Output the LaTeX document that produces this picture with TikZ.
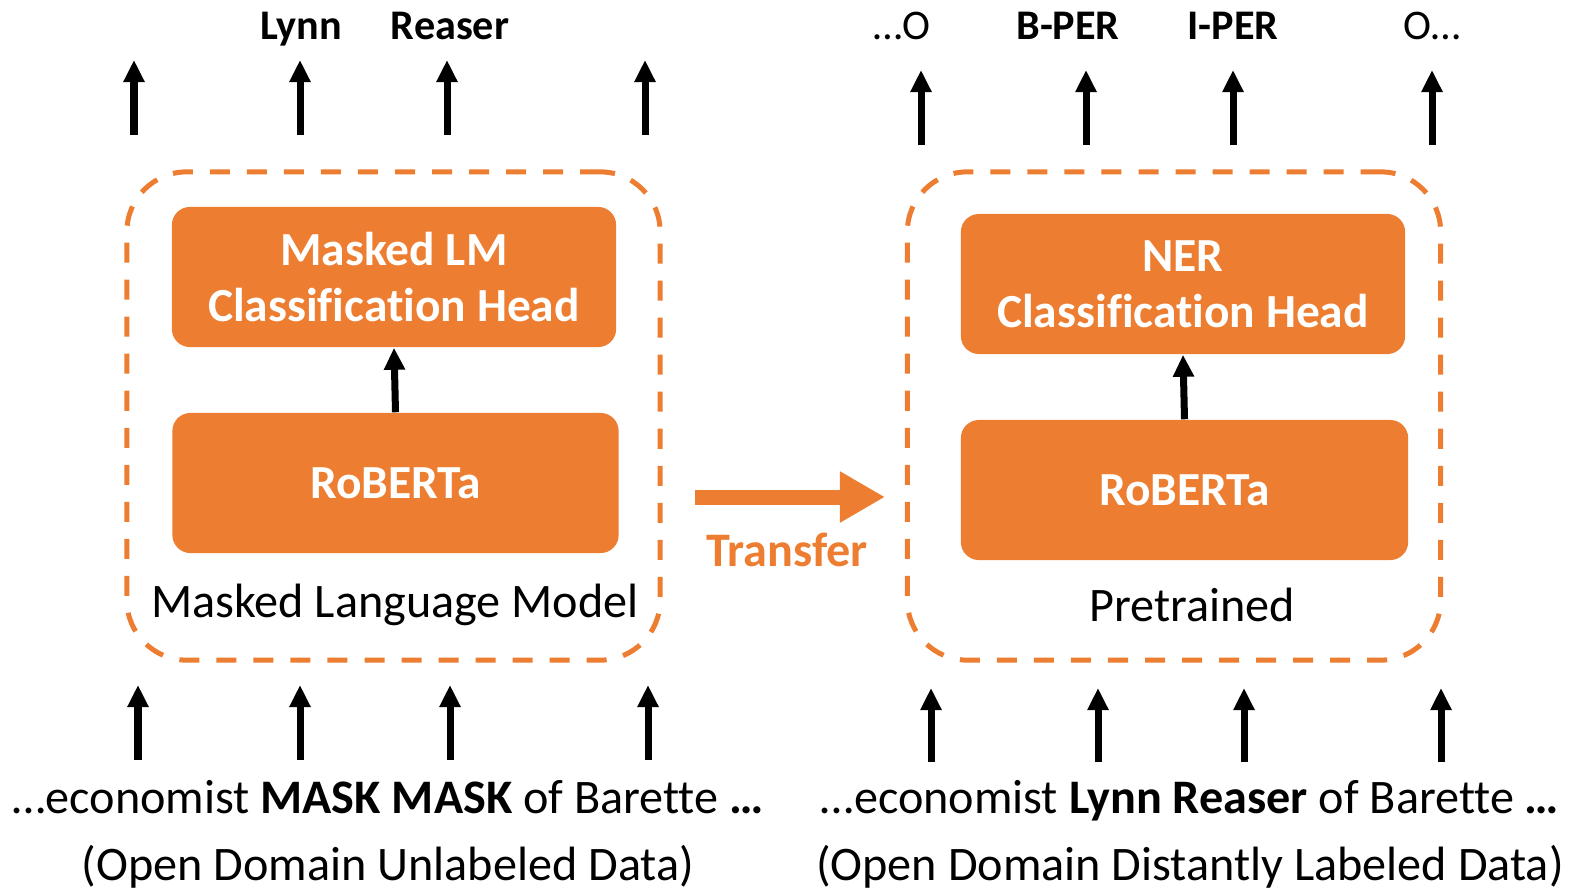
\documentclass[tikz,border=0pt]{standalone}
\usepackage{fontspec}
\setmainfont{Carlito}[Ligatures=NoCommon]
\usetikzlibrary{arrows.meta,positioning}
\definecolor{accent}{HTML}{ED7D31}

\begin{document}
\begin{tikzpicture}[
  x=0.01cm, y=-0.01cm,
  headbox/.style={rectangle, fill=accent, rounded corners=0.18cm, minimum width=4.44cm, minimum height=1.4cm, align=center, text=white, font=\fontsize{13.5}{16}\selectfont\bfseries},
  frame/.style={rectangle, draw=accent, line width=0.05cm, dash pattern=on 0.2cm off 0.17cm, rounded corners=0.6cm, minimum width=5.33cm, minimum height=4.88cm},
  tok/.style={-{Triangle[length=0.22cm, width=0.2cm]}, line width=0.07cm},
  transfer/.style={-{Triangle[length=0.45cm, width=0.48cm]}, line width=0.15cm, accent},
  tag/.style={anchor=base, font=\fontsize{12}{14}\selectfont},
  tagb/.style={anchor=base, font=\fontsize{12}{14}\selectfont\bfseries},
  caption/.style={font=\fontsize{13.7}{16}\selectfont},
  sentence/.style={anchor=base, font=\fontsize{13.7}{16}\selectfont},
]
\useasboundingbox (0,0) rectangle (1573,888);

% === Left: masked language model ===
\node[frame] (mlm) at (393.5,416) {};
\node[headbox] (mlmhead) at (394,277) {Masked LM\\Classification Head};
\node[headbox, minimum width=4.46cm] (mlmenc) at (395.5,483) {RoBERTa};
\node[caption] (mlmcap) at (395,605) {Masked Language Model};
\draw[tok] (mlmenc.north) -- (mlmhead.south);

% === Right: pretrained NER model ===
\node[frame] (ner) at (1174,416) {};
\node[headbox] (nerhead) at (1183,284) {NER\\Classification Head};
\node[headbox, minimum width=4.47cm] (nerenc) at (1184.5,490) {RoBERTa};
\node[caption] (nercap) at (1192,605) {Pretrained};
\draw[tok] (nerenc.north) -- (nerhead.south);

% === Transfer ===
\coordinate (tfrom) at (695,497);
\coordinate (tto) at (885,497);
\draw[transfer] (tfrom) -- (tto);
\node[caption, text=accent, font=\fontsize{13.7}{16}\selectfont\bfseries] (tlabel) at (787,550) {Transfer};

% === Output tokens ===
\node[tagb] (ylynn) at (301,40) {Lynn};
\node[tagb] (yreaser) at (450,40) {Reaser};
\node[tag] (yo1) at (902,40) {…O};
\node[tagb] (ybper) at (1068,40) {B-PER};
\node[tagb] (yiper) at (1233,40) {I-PER};
\node[tag] (yo2) at (1432,40) {O…};

\coordinate (lo1) at (134,135); \coordinate (lo1t) at (134,60);
\coordinate (lo2) at (300,135); \coordinate (lo2t) at (300,60);
\coordinate (lo3) at (447,135); \coordinate (lo3t) at (447,60);
\coordinate (lo4) at (645,135); \coordinate (lo4t) at (645,60);
\coordinate (ro1) at (921,145); \coordinate (ro1t) at (921,70);
\coordinate (ro2) at (1086,145); \coordinate (ro2t) at (1086,70);
\coordinate (ro3) at (1233,145); \coordinate (ro3t) at (1233,70);
\coordinate (ro4) at (1432,145); \coordinate (ro4t) at (1432,70);
\draw[tok] (lo1) -- (lo1t);
\draw[tok] (lo2) -- (lo2t);
\draw[tok] (lo3) -- (lo3t);
\draw[tok] (lo4) -- (lo4t);
\draw[tok] (ro1) -- (ro1t);
\draw[tok] (ro2) -- (ro2t);
\draw[tok] (ro3) -- (ro3t);
\draw[tok] (ro4) -- (ro4t);

% === Input tokens ===
\coordinate (li1) at (138,760); \coordinate (li1t) at (138,685);
\coordinate (li2) at (300,760); \coordinate (li2t) at (300,685);
\coordinate (li3) at (450,760); \coordinate (li3t) at (450,685);
\coordinate (li4) at (648,760); \coordinate (li4t) at (648,685);
\coordinate (ri1) at (931,762); \coordinate (ri1t) at (931,688);
\coordinate (ri2) at (1098,762); \coordinate (ri2t) at (1098,688);
\coordinate (ri3) at (1244,762); \coordinate (ri3t) at (1244,688);
\coordinate (ri4) at (1441,762); \coordinate (ri4t) at (1441,688);
\draw[tok] (li1) -- (li1t);
\draw[tok] (li2) -- (li2t);
\draw[tok] (li3) -- (li3t);
\draw[tok] (li4) -- (li4t);
\draw[tok] (ri1) -- (ri1t);
\draw[tok] (ri2) -- (ri2t);
\draw[tok] (ri3) -- (ri3t);
\draw[tok] (ri4) -- (ri4t);

\node[sentence] (mlmin) at (388,813) {…economist \textbf{MASK MASK} of Barette \textbf{…}};
\node[sentence] (mlmdata) at (388,880) {(Open Domain Unlabeled Data)};
\node[sentence] (nerin) at (1190,813) {…economist \textbf{Lynn Reaser} of Barette \textbf{…}};
\node[sentence] (nerdata) at (1190,880) {(Open Domain Distantly Labeled Data)};

\end{tikzpicture}
\end{document}
